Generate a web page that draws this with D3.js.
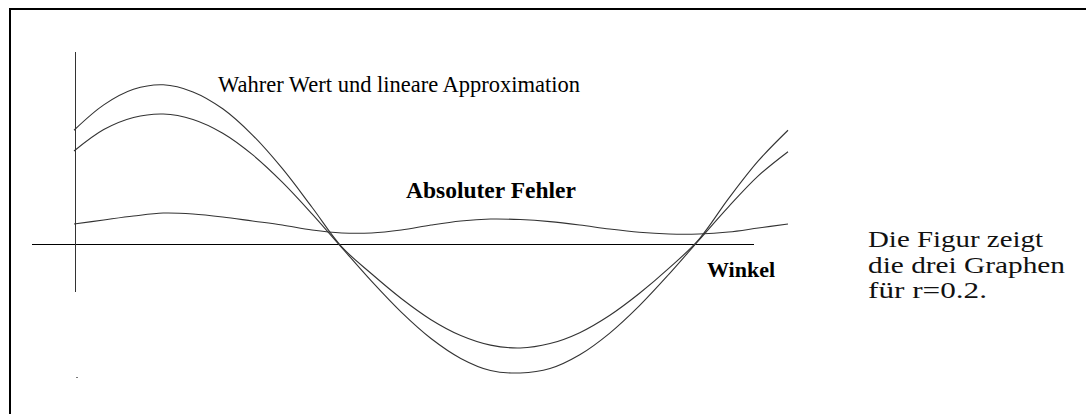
<!DOCTYPE html>
<html><head><meta charset="utf-8">
<script src="https://cdn.jsdelivr.net/npm/d3@7"></script>
<style>html,body{margin:0;padding:0;background:#fff;overflow:hidden}</style>
</head><body>
<script>
// angle in degrees (Winkel)
const angles = [0,15,30,45,60,75,90,105,120,135,150,165,180,195,210,225,240,255,270,285,300,315,330,345,360];
// true value
const trueValues = [0.875,1.07,1.19,1.225,1.17,1.04,0.838,0.581,0.283,-0.022,-0.229,-0.419,-0.582,-0.704,-0.778,-0.8,-0.766,-0.682,-0.55,-0.381,-0.186,0.034,0.349,0.639,0.875];
// linear approximation
const approxValues = [0.715,0.88,0.973,1.0,0.958,0.852,0.687,0.476,0.232,-0.028,-0.286,-0.524,-0.727,-0.88,-0.973,-0.992,-0.958,-0.852,-0.687,-0.476,-0.232,0.028,0.286,0.524,0.71];
// absolute error
const errorValues = [0.154,0.185,0.215,0.238,0.231,0.208,0.177,0.146,0.108,0.085,0.085,0.108,0.146,0.177,0.192,0.188,0.172,0.146,0.115,0.09,0.077,0.077,0.092,0.123,0.154];
const labels = ["Wahrer Wert und lineare Approximation","Absoluter Fehler","Winkel"];
const noteLines = ["Die Figur zeigt","die drei Graphen","für r=0.2."];
const xAxisExtent = [-21, 343];
const yAxisExtent = [-0.37, 1.48];

const W = 1086, H = 414;
const svg = d3.select("body").append("svg").attr("width", W).attr("height", H);

// frame
svg.append("rect").attr("x", 10).attr("y", 9).attr("width", 1200).attr("height", 600)
  .attr("fill", "none").attr("stroke", "#000").attr("stroke-width", 2);

const x = d3.scaleLinear().domain([0, 360]).range([74, 788]);
const y = d3.scaleLinear().domain([0, 1]).range([244, 114]);

// axes
svg.append("line").attr("x1", x(xAxisExtent[0])).attr("x2", x(xAxisExtent[1]))
  .attr("y1", y(0)).attr("y2", y(0)).attr("stroke", "#000").attr("stroke-width", 1).attr("shape-rendering","crispEdges");
svg.append("line").attr("x1", x(0) + 1.5).attr("x2", x(0) + 1.5)
  .attr("y1", y(yAxisExtent[1])).attr("y2", y(yAxisExtent[0])).attr("stroke", "#333").attr("stroke-width", 1).attr("shape-rendering","crispEdges");

const line = (vals) => d3.line().x((d, i) => x(angles[i])).y(d => y(d)).curve(d3.curveCatmullRom.alpha(0.5))(vals);
[trueValues, approxValues, errorValues].forEach(vals => {
  svg.append("path").attr("d", line(vals)).attr("fill", "none")
    .attr("stroke", "#333").attr("stroke-width", 1.1);
});

// tiny stray dot
svg.append("rect").attr("x", 76).attr("y", 377).attr("width", 2).attr("height", 1).attr("fill", "#777");

svg.append("text").attr("x", 218).attr("y", 92).text(labels[0])
  .attr("font-family", "'Liberation Serif', serif").attr("font-size", 22.5).attr("fill", "#000");
svg.append("text").attr("x", 406).attr("y", 198).text(labels[1])
  .attr("font-family", "'Liberation Serif', serif").attr("font-weight", "bold").attr("font-size", 23.5).attr("fill", "#000");
svg.append("text").attr("x", 707).attr("y", 277).text(labels[2])
  .attr("font-family", "'Liberation Serif', serif").attr("font-weight", "bold").attr("font-size", 22).attr("fill", "#000");

const noteWidths = [175, 197, 119];
noteLines.forEach((t, i) => {
  svg.append("text").attr("x", 868).attr("y", 247 + i * 25.5).text(t)
    .attr("font-family", "'Liberation Serif', serif").attr("font-size", 22.5).attr("fill", "#111")
    .attr("textLength", noteWidths[i]).attr("lengthAdjust", "spacingAndGlyphs");
});
</script>
</body></html>
